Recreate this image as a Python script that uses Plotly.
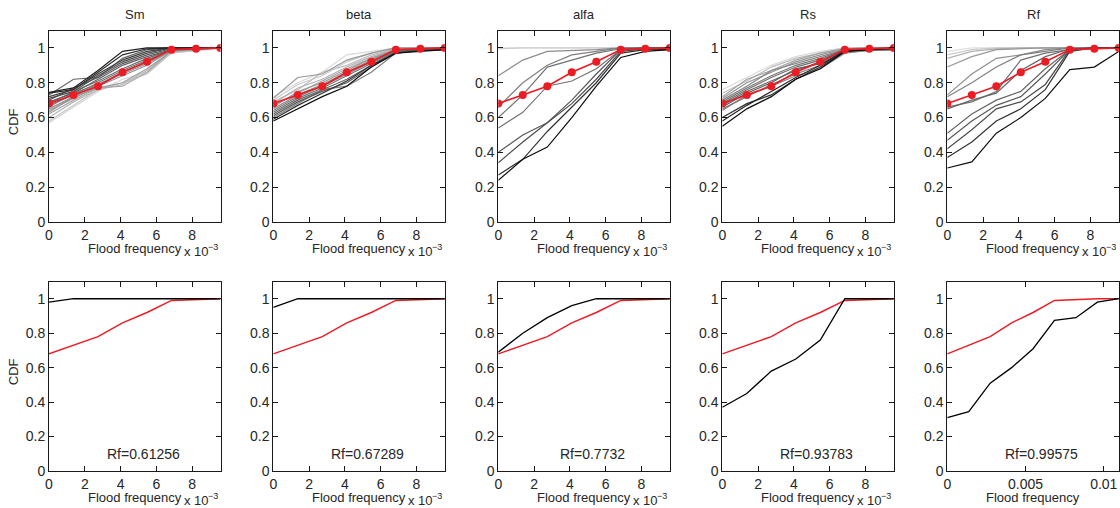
import plotly.graph_objects as go

# ---------------- data ----------------
X = [0, 0.00137, 0.00274, 0.00411, 0.00548, 0.00685, 0.00822, 0.00959]
X_RF_BOTTOM = [0, 0.00137, 0.00274, 0.00411, 0.00548, 0.00685, 0.00822, 0.00959, 0.01096]
TITLES = ["Sm", "beta", "alfa", "Rs", "Rf"]

REF_CDF = [0.68, 0.73, 0.78, 0.86, 0.92, 0.99, 0.995, 1.0]
REF_CDF_RF = [0.68, 0.73, 0.78, 0.86, 0.92, 0.99, 0.995, 1.0, 1.0]

SM_LINES = [
    [0.745, 0.77, 0.87, 0.98, 1.0, 1.0, 1.0, 1.0],
    [0.74, 0.76, 0.86, 0.96, 0.995, 1.0, 1.0, 1.0],
    [0.73, 0.82, 0.83, 0.94, 0.99, 1.0, 1.0, 1.0],
    [0.72, 0.76, 0.85, 0.93, 0.98, 1.0, 1.0, 1.0],
    [0.71, 0.75, 0.84, 0.92, 0.97, 1.0, 1.0, 1.0],
    [0.70, 0.77, 0.83, 0.91, 0.96, 0.995, 1.0, 1.0],
    [0.69, 0.74, 0.82, 0.90, 0.95, 0.99, 1.0, 1.0],
    [0.68, 0.75, 0.81, 0.88, 0.94, 0.99, 1.0, 1.0],
    [0.67, 0.73, 0.80, 0.87, 0.93, 0.99, 0.995, 1.0],
    [0.66, 0.74, 0.79, 0.86, 0.92, 0.99, 0.995, 1.0],
    [0.65, 0.72, 0.79, 0.85, 0.91, 0.985, 0.995, 1.0],
    [0.64, 0.71, 0.78, 0.84, 0.90, 0.985, 0.99, 1.0],
    [0.63, 0.72, 0.77, 0.80, 0.88, 0.98, 0.99, 1.0],
    [0.62, 0.70, 0.77, 0.78, 0.86, 0.98, 0.99, 1.0],
    [0.60, 0.69, 0.76, 0.79, 0.87, 0.98, 0.99, 1.0],
    [0.58, 0.67, 0.76, 0.80, 0.85, 0.97, 0.985, 1.0],
    [0.57, 0.66, 0.75, 0.82, 0.86, 0.97, 0.985, 0.995],
]
SM_GREYS = [0.12, 0.18, 0.4, 0.25, 0.3, 0.35, 0.38, 0.42, 0.46, 0.5, 0.54, 0.58,
            0.62, 0.66, 0.72, 0.78, 0.84]

BETA_LINES = [
    [0.72, 0.80, 0.86, 0.96, 0.98, 1.0, 1.0, 1.0],
    [0.71, 0.83, 0.85, 0.93, 0.97, 1.0, 1.0, 1.0],
    [0.70, 0.79, 0.84, 0.92, 0.97, 1.0, 1.0, 1.0],
    [0.69, 0.76, 0.86, 0.90, 0.96, 0.995, 1.0, 1.0],
    [0.68, 0.77, 0.82, 0.89, 0.95, 0.995, 1.0, 1.0],
    [0.67, 0.74, 0.81, 0.88, 0.94, 0.99, 1.0, 1.0],
    [0.66, 0.75, 0.80, 0.87, 0.94, 0.99, 0.995, 1.0],
    [0.65, 0.73, 0.79, 0.86, 0.93, 0.99, 0.995, 1.0],
    [0.64, 0.72, 0.78, 0.85, 0.92, 0.985, 0.995, 1.0],
    [0.63, 0.71, 0.77, 0.84, 0.91, 0.985, 0.99, 1.0],
    [0.62, 0.70, 0.76, 0.82, 0.90, 0.98, 0.99, 1.0],
    [0.61, 0.69, 0.75, 0.80, 0.89, 0.975, 0.99, 0.995],
    [0.60, 0.68, 0.76, 0.78, 0.86, 0.97, 0.985, 0.99],
    [0.59, 0.67, 0.74, 0.81, 0.90, 0.97, 0.985, 0.99],
    [0.58, 0.65, 0.72, 0.78, 0.89, 0.97, 0.98, 0.99],
]
BETA_GREYS = [0.85, 0.6, 0.8, 0.75, 0.7, 0.65, 0.6, 0.55, 0.5, 0.45, 0.4, 0.35,
              0.5, 0.2, 0.06]

ALFA_LINES = [
    [1.0, 1.0, 1.0, 1.0, 1.0, 1.0, 1.0, 1.0],
    [0.995, 1.0, 1.0, 1.0, 1.0, 1.0, 1.0, 1.0],
    [0.84, 0.93, 0.98, 0.985, 0.99, 1.0, 1.0, 1.0],
    [0.66, 0.80, 0.90, 0.96, 0.98, 1.0, 1.0, 1.0],
    [0.60, 0.73, 0.89, 0.93, 0.97, 0.995, 1.0, 1.0],
    [0.54, 0.63, 0.78, 0.81, 0.88, 0.99, 1.0, 1.0],
    [0.40, 0.50, 0.57, 0.70, 0.85, 0.99, 1.0, 1.0],
    [0.34, 0.46, 0.57, 0.68, 0.82, 0.98, 0.995, 1.0],
    [0.27, 0.36, 0.52, 0.66, 0.80, 0.97, 0.99, 0.99],
    [0.24, 0.36, 0.43, 0.60, 0.78, 0.945, 0.98, 0.99],
]
ALFA_GREYS = [0.88, 0.8, 0.55, 0.5, 0.45, 0.45, 0.35, 0.3, 0.2, 0.05]

RS_LINES = [
    [0.76, 0.83, 0.90, 0.95, 0.98, 1.0, 1.0, 1.0],
    [0.74, 0.81, 0.89, 0.94, 0.97, 1.0, 1.0, 1.0],
    [0.72, 0.82, 0.87, 0.93, 0.97, 0.995, 1.0, 1.0],
    [0.71, 0.80, 0.86, 0.92, 0.96, 0.995, 1.0, 1.0],
    [0.70, 0.78, 0.87, 0.91, 0.95, 0.99, 0.995, 1.0],
    [0.69, 0.77, 0.84, 0.90, 0.94, 0.99, 0.995, 1.0],
    [0.68, 0.76, 0.83, 0.89, 0.93, 0.99, 0.99, 0.995],
    [0.67, 0.75, 0.81, 0.87, 0.92, 0.985, 0.99, 0.995],
    [0.66, 0.74, 0.80, 0.88, 0.91, 0.98, 0.99, 0.99],
    [0.65, 0.72, 0.79, 0.85, 0.90, 0.98, 0.985, 0.99],
    [0.64, 0.73, 0.78, 0.84, 0.88, 0.97, 0.985, 0.99],
    [0.60, 0.68, 0.73, 0.82, 0.89, 0.98, 0.99, 0.995],
    [0.58, 0.67, 0.75, 0.83, 0.90, 0.985, 0.99, 1.0],
    [0.55, 0.65, 0.72, 0.82, 0.88, 0.98, 0.99, 1.0],
]
RS_GREYS = [0.85, 0.74, 0.64, 0.58, 0.52, 0.47, 0.43, 0.4, 0.36, 0.48, 0.52, 0.2,
            0.14, 0.05]

RF_LINES = [
    [0.98, 1.0, 1.0, 1.0, 1.0, 1.0, 1.0, 1.0],
    [0.96, 0.99, 1.0, 1.0, 1.0, 1.0, 1.0, 1.0],
    [0.94, 0.98, 0.995, 1.0, 1.0, 1.0, 1.0, 1.0],
    [0.89, 0.95, 0.99, 0.995, 1.0, 1.0, 1.0, 1.0],
    [0.73, 0.85, 0.94, 0.96, 0.99, 1.0, 1.0, 1.0],
    [0.72, 0.80, 0.89, 0.96, 0.98, 1.0, 1.0, 1.0],
    [0.66, 0.69, 0.75, 0.93, 0.97, 0.99, 1.0, 1.0],
    [0.65, 0.70, 0.74, 0.87, 0.95, 0.995, 1.0, 1.0],
    [0.51, 0.62, 0.70, 0.75, 0.88, 0.99, 1.0, 1.0],
    [0.47, 0.58, 0.67, 0.72, 0.85, 0.99, 1.0, 1.0],
    [0.42, 0.53, 0.65, 0.69, 0.79, 0.99, 1.0, 1.0],
    [0.37, 0.46, 0.58, 0.65, 0.76, 0.98, 1.0, 1.0],
    [0.31, 0.345, 0.51, 0.60, 0.71, 0.875, 0.89, 0.98],
]
RF_GREYS = [0.88, 0.8, 0.7, 0.6, 0.55, 0.5, 0.45, 0.4, 0.4, 0.35, 0.3, 0.2, 0.05]

SM_BEST = [0.98, 1.0, 1.0, 1.0, 1.0, 1.0, 1.0, 1.0]
BETA_BEST = [0.95, 1.0, 1.0, 1.0, 1.0, 1.0, 1.0, 1.0]
ALFA_BEST = [0.69, 0.80, 0.89, 0.96, 1.0, 1.0, 1.0, 1.0]
RS_BEST = [0.37, 0.45, 0.58, 0.65, 0.76, 1.0, 1.0, 1.0]
RF_BEST = [0.31, 0.345, 0.51, 0.60, 0.71, 0.875, 0.89, 0.98, 1.0]

RF_LABELS = ["Rf=0.61256", "Rf=0.67289", "Rf=0.7732", "Rf=0.93783", "Rf=0.99575"]

XTICK_VALS = [0, 0.002, 0.004, 0.006, 0.008]
XTICK_TEXT = ["0", "2", "4", "6", "8"]
XTICK_VALS_RF = [0, 0.005, 0.01]
XTICK_TEXT_RF = ["0", "0.005", "0.01"]
YTICK_VALS = [0, 0.2, 0.4, 0.6, 0.8, 1.0]
YTICK_TEXT = ["0", "0.2", "0.4", "0.6", "0.8", "1"]
X_LABEL = "Flood frequency"
EXP_BASE = "x 10"
EXP_POWER = "−3"
Y_LABEL = "CDF"

# ---------------- layout geometry (pixels) ----------------
W, H = 1120, 508
LEFTS = [49, 273.3, 498.3, 722.3, 947.3]
PW = 171.5
TOP_T, TOP_B = 30.5, 222
BOT_T, BOT_B = 281.5, 471
FONT = "Liberation Sans, Arial, Helvetica, sans-serif"
TXT = "#262626"
RED = "rgb(236,28,36)"


def px(x):
    return x / W


def py(y):
    return 1 - y / H


def grey(v):
    c = int(round(v * 255))
    return f"rgb({c},{c},{c})"


fig = go.Figure()

top_sets = [(SM_LINES, SM_GREYS), (BETA_LINES, BETA_GREYS), (ALFA_LINES, ALFA_GREYS),
            (RS_LINES, RS_GREYS), (RF_LINES, RF_GREYS)]
bottom_best = [SM_BEST, BETA_BEST, ALFA_BEST, RS_BEST, RF_BEST]

for i in range(5):
    ax = i + 1
    xa = "x" if ax == 1 else f"x{ax}"
    ya = "y" if ax == 1 else f"y{ax}"
    lines, greys = top_sets[i]
    order = sorted(range(len(lines)), key=lambda k: -greys[k])
    for k in order:
        fig.add_trace(go.Scatter(x=X, y=lines[k], mode="lines", xaxis=xa, yaxis=ya,
                                 line=dict(color=grey(greys[k]), width=1.2),
                                 showlegend=False, hoverinfo="skip"))
    fig.add_trace(go.Scatter(x=X, y=REF_CDF, mode="lines+markers", xaxis=xa, yaxis=ya,
                             line=dict(color=RED, width=1.6),
                             marker=dict(color=RED, size=8),
                             showlegend=False))

for i in range(5):
    ax = i + 6
    xa = f"x{ax}"
    ya = f"y{ax}"
    if i == 4:
        xs, ref = X_RF_BOTTOM, REF_CDF_RF
    else:
        xs, ref = X, REF_CDF
    fig.add_trace(go.Scatter(x=xs, y=ref, mode="lines", xaxis=xa, yaxis=ya,
                             line=dict(color=RED, width=1.5), showlegend=False))
    fig.add_trace(go.Scatter(x=xs, y=bottom_best[i], mode="lines", xaxis=xa, yaxis=ya,
                             line=dict(color="black", width=1.3), showlegend=False))

axis_common = dict(showline=True, linecolor="#1a1a1a", linewidth=1, mirror="ticks",
                   ticks="inside", ticklen=5, tickcolor="#1a1a1a", showgrid=False,
                   zeroline=False, automargin=False,
                   tickfont=dict(family=FONT, size=14, color=TXT))

layout = dict(width=W, height=H, margin=dict(l=0, r=0, t=0, b=0),
              paper_bgcolor="white", plot_bgcolor="white", showlegend=False)


def note(x, y, text, size, xanchor="center", angle=0):
    return dict(xref="paper", yref="paper", x=px(x), y=py(y), text=text,
                showarrow=False, xanchor=xanchor, yanchor="middle", textangle=angle,
                font=dict(family=FONT, size=size, color=TXT))


annotations = []
for r in range(2):
    for i in range(5):
        ax = r * 5 + i + 1
        xkey = "xaxis" if ax == 1 else f"xaxis{ax}"
        ykey = "yaxis" if ax == 1 else f"yaxis{ax}"
        yanchor = "y" if ax == 1 else f"y{ax}"
        xanchor = "x" if ax == 1 else f"x{ax}"
        t, b = (TOP_T, TOP_B) if r == 0 else (BOT_T, BOT_B)
        L = LEFTS[i]
        rf_bottom = (r == 1 and i == 4)
        layout[xkey] = dict(axis_common, domain=[px(L), px(L + PW)], anchor=yanchor,
                            range=[0, 0.01096 if rf_bottom else 0.00959],
                            tickvals=XTICK_VALS_RF if rf_bottom else XTICK_VALS,
                            ticktext=XTICK_TEXT_RF if rf_bottom else XTICK_TEXT)
        layout[ykey] = dict(axis_common, domain=[py(b), py(t)], anchor=xanchor,
                            range=[0, 1.1], tickvals=YTICK_VALS, ticktext=YTICK_TEXT)
        annotations.append(note(L + PW / 2, b + 26, X_LABEL, 13))
        if not rf_bottom:
            annotations.append(note(L + PW - 39, b + 29.5, EXP_BASE, 13, xanchor="left"))
            annotations.append(note(L + PW - 14.5, b + 24.5, EXP_POWER, 9, xanchor="left"))
        if r == 0:
            annotations.append(note(L + PW / 2, 15, TITLES[i], 13))
        else:
            annotations.append(note(L + PW * 0.55, b - 17, RF_LABELS[i], 14))
        if i == 0:
            annotations.append(note(13, (t + b) / 2 - 4, Y_LABEL, 13, angle=-90))

layout["annotations"] = annotations
fig.update_layout(**layout)
fig.write_html("out.html")
